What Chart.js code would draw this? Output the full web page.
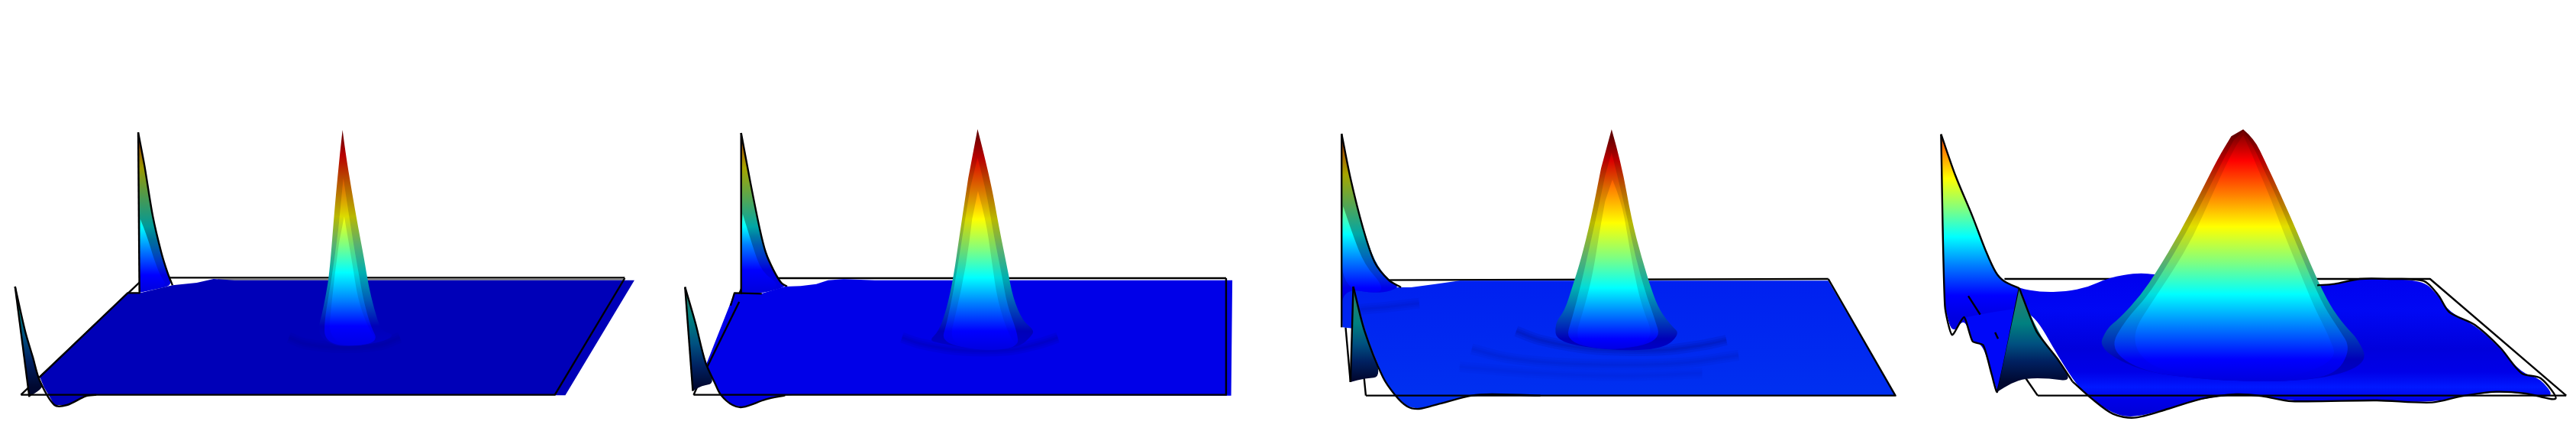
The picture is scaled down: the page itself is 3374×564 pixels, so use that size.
<!DOCTYPE html>
<html>
<head>
<meta charset="utf-8">
<title>Surface panels</title>
<script src="https://cdn.jsdelivr.net/npm/chart.js@4"></script>
<style>
  html, body { margin: 0; padding: 0; background: #fff; }
  body { width: 3374px; height: 564px; position: relative; overflow: hidden; }
  canvas { position: absolute; top: 140px; }
</style>
</head>
<body>
<canvas id="panel1" width="860" height="424" style="left:0"></canvas>
<canvas id="panel2" width="800" height="424" style="left:860px"></canvas>
<canvas id="panel3" width="800" height="424" style="left:1700px"></canvas>
<canvas id="panel4" width="874" height="424" style="left:2500px"></canvas>
<script>
// ======== colour ramps ========
const jetColors = ["#8b0000", "#ff0000", "#ff8000", "#ffff00", "#80ff80", "#00ffff", "#0080ff", "#0000ff", "#0000e0"];
const edgeColors = ["#660000", "#b80000", "#b86000", "#b8b800", "#58b070", "#00b0b0", "#0058b8", "#0000b8", "#0000c8"];
const frontColors = ["#30806a", "#008080", "#005080", "#002060", "#000830"];

// ======== panel 1 ========
const p1FrameBack = [[50,1130],[345,670],[1492,670]];
const p1FrameFront = [[50,1130],[1325,1130],[1492,672]];
const p1TopBand = [[520,677],[1490,677]];
const p1Plane = [[305,730],[335,730],[412,700],[470,690],[510,675],[560,680],[1515,680],[1350,1132],[230,1130],[205,1135],[160,1170],[130,1170],[105,1100],[95,1060]];
const p1PlaneEdge = [[95,1060],[305,730],[335,730]];
const p1Ripple = [[690,905],[730,930],[820,945],[905,935],[955,905]];
const p1Peak = [[818,90],[825,180],[840,330],[855,470],[870,600],[880,700],[893,790],[910,880],[945,895],[905,928],[820,942],[780,925],[758,880],[768,820],[778,740],[787,650],[800,380],[812,180]];
const p1PeakMid = [[820,280],[838,480],[855,640],[868,760],[885,860],[905,925],[820,942],[775,915],[775,840],[785,740],[795,640],[808,480]];
const p1PeakInner = [[822,430],[840,600],[855,760],[880,870],[905,925],[820,942],[785,890],[790,800],[800,650],[810,530]];
const p1PeakLevels = [100,190,310,430,540,650,760,860,950];
const p1BackSpike = [[330,100],[345,230],[365,430],[385,570],[400,650],[412,700],[375,715],[333,728]];
const p1BackInner = [[335,440],[350,500],[368,600],[385,670],[400,702],[333,728]];
const p1BackLevels = [0,60,150,240,350,470,560,660,720];
const p1FrontSpike = [[36,705],[60,880],[78,980],[95,1075],[105,1100],[70,1138]];
const p1FrontEdge = [[36,705],[60,880],[78,980],[95,1075],[130,1170],[160,1170],[205,1135],[230,1130]];
const p1FrontLeft = [[70,1138],[36,705]];
const p1FrontLevels = [720,800,900,1000,1100];

// ======== panel 2 ========
const p2FrameBack = [[95,1130],[230,672],[1462,672]];
const p2FrameFront = [[95,1130],[1462,1130],[1462,672]];
const p2FramePiece = [[212,765],[130,1020]];
const p2Plane = [[200,730],[215,735],[270,732],[330,705],[370,703],[410,695],[440,680],[480,676],[560,680],[1478,680],[1475,1133],[1462,1133],[360,1130],[320,1133],[280,1148],[222,1178],[195,1170],[165,1130],[150,1085],[125,1020]];
const p2PlaneEdge = [[190,780],[200,730],[270,733]];
const p2Ripple = [[630,905],[680,930],[780,955],[900,955],[980,930],[1030,905]];
const p2Peak = [[824,87],[855,270],[880,480],[900,630],[915,750],[940,840],[968,875],[965,895],[930,945],[830,958],[720,925],[700,915],[725,880],[745,790],[762,670],[778,500],[800,280]];
const p2PeakMid = [[824,200],[845,320],[865,500],[885,650],[900,780],[925,880],[930,945],[830,958],[730,925],[745,850],[765,700],[785,510],[805,320]];
const p2PeakInner = [[825,330],[845,440],[860,600],[875,760],[905,900],[930,945],[830,958],[750,925],[770,800],[795,620],[810,440]];
const p2PeakLevels = [100,200,320,440,560,670,770,880,955];
const p2BackSpike = [[217,102],[240,290],[265,480],[280,570],[300,640],[320,690],[335,705],[270,732],[217,735]];
const p2BackInner = [[221,420],[245,540],[270,650],[320,700],[270,732],[217,735],[217,500]];
const p2BackLevels = [-40,30,140,240,360,470,540,640,720];
const p2FrontSpike = [[73,707],[100,850],[125,1000],[150,1085],[115,1095],[93,1115]];
const p2FrontEdge = [[73,707],[100,850],[125,1000],[150,1085],[165,1130],[195,1170],[222,1178],[280,1148],[330,1132]];
const p2FrontLeft = [[93,1115],[73,707]];
const p2FrontLevels = [720,830,930,1020,1100];

// ======== panel 3 ========
const p3FrameBack = [[168,1133],[140,680],[1312,675]];
const p3FrameFront = [[168,1133],[1478,1133],[1312,675]];
const p3Plane = [[108,710],[135,710],[255,708],[280,708],[340,695],[400,682],[500,682],[1312,682],[1478,1133],[600,1133],[480,1128],[430,1133],[350,1165],[300,1185],[270,1175],[240,1130],[210,1060],[165,880],[140,870],[110,865]];
const p3PlaneLevels = [680,900,1133];
const p3PlaneColors = ["#0020f0", "#0028f0", "#0030f0"];
const p3RippleA = [[540,880],[600,915],[700,945],[780,955],[900,955],[1000,935],[1060,915]];
const p3RippleB = [[430,950],[520,985],[640,1005],[800,1012],[950,1005],[1090,975]];
const p3RippleC = [[400,1020],[600,1045],[800,1055],[1000,1045]];
const p3Fold = [[150,795],[220,785],[300,770]];
const p3Peak = [[776,88],[800,220],[825,440],[850,590],[875,720],[895,800],[925,860],[945,890],[905,950],[780,958],[640,925],[635,850],[660,800],[680,700],[700,600],[725,440],[750,240]];
const p3PeakMid = [[776,180],[795,300],[815,440],[835,590],[860,730],[880,820],[900,920],[780,958],[660,925],[680,820],[700,700],[720,560],[740,420],[760,270]];
const p3PeakInner = [[778,285],[800,370],[815,500],[830,640],[850,780],[885,920],[780,958],[680,930],[710,780],[730,650],[745,500],[760,370]];
const p3PeakLevels = [120,210,320,455,590,710,810,910,955];
const p3BackSpike = [[108,105],[130,280],[160,470],[190,610],[225,680],[255,708],[200,735],[108,710],[108,865]];
const p3BackInner = [[112,390],[135,500],[165,620],[210,700],[200,735],[108,710],[108,480]];
const p3BackLevels = [-30,70,165,265,385,500,600,710,760];
const p3FrontSpike = [[137,705],[165,880],[210,1060],[165,1065],[130,1080]];
const p3FrontEdge = [[137,705],[165,880],[210,1060],[240,1130],[270,1175],[300,1185],[350,1165],[430,1133],[480,1128],[600,1133]];
const p3FrontLeft = [[130,1080],[137,705]];
const p3LeftEdge = [[118,865],[130,1080]];
const p3FrontLevels = [720,850,930,1000,1070];

// ======== panel 4 ========
const p4FrameBack = [[275,1065],[303,1133]];
const p4FrameTop = [[225,675],[1225,675],[1545,1133]];
const p4FrameFront = [[303,1133],[1545,1133]];
const p4FramePieceA = [[140,742],[168,815]];
const p4FramePieceB = [[203,885],[210,910]];
const p4Surface = [[76,107],[110,270],[150,430],[180,560],[205,650],[225,685],[260,712],[310,727],[370,725],[420,708],[470,670],[540,650],[585,660],[960,700],[1000,695],[1060,675],[1130,675],[1210,683],[1245,740],[1270,805],[1330,855],[1390,945],[1440,1045],[1485,1065],[1520,1145],[1450,1125],[1380,1118],[1300,1135],[1230,1160],[1100,1152],[900,1155],[830,1135],[770,1128],[690,1145],[610,1185],[530,1220],[480,1205],[430,1145],[385,1078],[260,712],[208,1118],[195,1050],[175,935],[150,920],[130,825],[102,895],[85,780]];
const p4SurfaceLevels = [650,800,950,1040,1100,1150,1220];
const p4SurfaceColors = ["#0000ee","#0008f4","#0000dc","#0000e8","#0018ff","#0000e8","#0000d4"];
const p4LeftFold = [[135,825],[200,805],[260,790],[240,1000],[208,1118],[185,990],[175,935],[150,920]];
const p4Peak = [[786,88],[812,125],[838,215],[874,345],[910,480],[955,660],[990,780],[1025,860],[1055,910],[1080,1000],[1000,1060],[860,1080],[700,1070],[550,1040],[445,950],[465,870],[495,830],[545,740],[585,640],[635,500],[685,340],[727,200],[758,115]];
const p4PeakMid = [[786,95],[806,140],[830,230],[865,355],[898,485],[942,660],[976,785],[1010,870],[1040,950],[1000,1060],[860,1080],[700,1070],[550,1040],[470,950],[510,835],[560,745],[600,640],[650,500],[698,345],[738,210],[764,130]];
const p4PeakInner = [[786,110],[800,160],[820,240],[852,365],[880,490],[922,660],[954,790],[985,890],[1010,1000],[860,1080],[700,1070],[560,1020],[520,900],[578,750],[620,645],[670,505],[710,355],[746,225],[770,150]];
const p4PeakLevels = [110,210,345,470,610,735,860,990,1070];
const p4BackSpike = [[76,107],[110,270],[150,430],[180,560],[205,650],[225,685],[260,712],[300,790],[130,825],[102,895],[85,780]];
const p4BackLevels = [-30,60,170,280,400,510,620,740,830];
const p4FrontSpike = [[260,712],[300,880],[350,990],[385,1078],[330,1065],[275,1065],[240,1085],[208,1118]];
const p4FrontLevels = [720,850,930,1000,1080];

// ======== dataset helpers ========
let orderCount = 0;

function toPoints(list) {
  return list.map(([x, y]) => ({ x, y }));
}

// filled shape, painted by the shapeFill plugin below
function area(list, levels, colors, shade, sharp) {
  return {
    data: toPoints(list), levels, colors, shade: shade || 0, sharp: !!sharp,
    showLine: false, pointRadius: 0, order: -(orderCount++),
  };
}

function flat(list, color) {
  return area(list, [0, 1272], [color, color], 0, true);
}

function line(list, tension, width, color) {
  return {
    data: toPoints(list), showLine: true, pointRadius: 0,
    borderColor: color || "#000", borderWidth: width || 2.4,
    borderJoinStyle: "round", tension: tension || 0, order: -(orderCount++),
  };
}

// soft ripple on the surface
function ripple(list, alpha) {
  return [14, 8, 3].map((w) => line(list, 0.4, w, `rgba(0,0,90,${alpha})`));
}

// closes a dataset's points into a polygon (curved unless sharp, first point stays pointed) and fills it
const shapeFill = {
  id: "shapeFill",
  beforeDatasetDraw(chart, args) {
    const ds = chart.data.datasets[args.index];
    if (!ds.levels) return;
    const ctx = chart.ctx;
    const y = chart.scales.y;
    const first = ds.levels[0];
    const last = ds.levels[ds.levels.length - 1];
    const top = y.getPixelForValue(first);
    const bottom = y.getPixelForValue(last);
    const grad = ctx.createLinearGradient(0, top, 0, bottom);
    ds.levels.forEach((v, i) => grad.addColorStop((v - first) / (last - first), ds.colors[i]));

    const pts = args.meta.data;
    ctx.save();
    ctx.beginPath();
    ctx.moveTo(pts[0].x, pts[0].y);
    for (let i = 1; i < pts.length - 1; i++) {
      if (ds.sharp) ctx.lineTo(pts[i].x, pts[i].y);
      else ctx.quadraticCurveTo(pts[i].x, pts[i].y, (pts[i].x + pts[i + 1].x) / 2, (pts[i].y + pts[i + 1].y) / 2);
    }
    ctx.lineTo(pts[pts.length - 1].x, pts[pts.length - 1].y);
    ctx.closePath();
    ctx.fillStyle = grad;
    ctx.fill();
    if (ds.shade) {
      // darker sides, fading out at the foot of the peak
      const dark = ctx.createLinearGradient(0, top, 0, bottom);
      dark.addColorStop(0, `rgba(0,0,0,${ds.shade})`);
      dark.addColorStop(0.72, `rgba(0,0,0,${ds.shade})`);
      dark.addColorStop(1, "rgba(0,0,0,0)");
      ctx.fillStyle = dark;
      ctx.fill();
    }
    ctx.restore();
  },
};

function makeChart(id, xMax, datasets) {
  return new Chart(document.getElementById(id), {
    type: "scatter",
    data: { datasets },
    plugins: [shapeFill],
    options: {
      responsive: false,
      animation: false,
      layout: { padding: 0 },
      plugins: { legend: { display: false }, tooltip: { enabled: false } },
      scales: {
        x: { type: "linear", min: 0, max: xMax, display: false },
        y: { type: "linear", min: 0, max: 1272, reverse: true, display: false },
      },
    },
  });
}

// ======== charts ========
orderCount = 0;
makeChart("panel1", 1568, [
  line(p1FrameBack),
  line(p1TopBand, 0, 2, "#808080"),
  area(p1BackSpike, p1BackLevels, jetColors, 0.4),
  area(p1BackInner, p1BackLevels, jetColors),
  line([p1BackSpike[7], p1BackSpike[0]]),
  line(p1BackSpike.slice(0, 6), 0.3),
  flat(p1Plane, "#0000b8"),
  ...ripple(p1Ripple, 0.05),
  area(p1Peak, p1PeakLevels, edgeColors),
  area(p1PeakMid, p1PeakLevels, jetColors, 0.14),
  area(p1PeakInner, p1PeakLevels, jetColors),
  line(p1PlaneEdge),
  area(p1FrontSpike, p1FrontLevels, frontColors),
  line(p1FrontLeft),
  line(p1FrontEdge, 0.3),
  line(p1FrameFront),
]);

orderCount = 0;
makeChart("panel2", 1568, [
  line(p2FrameBack),
  area(p2BackSpike, p2BackLevels, jetColors, 0.35),
  area(p2BackInner, p2BackLevels, jetColors),
  line([p2BackSpike[8], p2BackSpike[0]]),
  line(p2BackSpike.slice(0, 7), 0.3),
  flat(p2Plane, "#0000e8"),
  ...ripple(p2Ripple, 0.07),
  area(p2Peak, p2PeakLevels, edgeColors),
  area(p2PeakMid, p2PeakLevels, jetColors, 0.14),
  area(p2PeakInner, p2PeakLevels, jetColors),
  line(p2PlaneEdge),
  line(p2FramePiece),
  area(p2FrontSpike, p2FrontLevels, frontColors),
  line(p2FrontLeft),
  line(p2FrontEdge, 0.3),
  line(p2FrameFront),
]);

orderCount = 0;
makeChart("panel3", 1511, [
  line(p3FrameBack),
  line(p3LeftEdge),
  area(p3Plane, p3PlaneLevels, p3PlaneColors, 0, true),
  ...ripple(p3RippleA, 0.09),
  ...ripple(p3RippleB, 0.045),
  ...ripple(p3RippleC, 0.025),
  ...ripple(p3Fold, 0.05),
  area(p3BackSpike, p3BackLevels, jetColors, 0.35),
  area(p3BackInner, p3BackLevels, jetColors),
  line([p3BackSpike[8], p3BackSpike[0]]),
  line(p3BackSpike.slice(0, 6), 0.3),
  area(p3Peak, p3PeakLevels, edgeColors),
  area(p3PeakMid, p3PeakLevels, jetColors, 0.14),
  area(p3PeakInner, p3PeakLevels, jetColors),
  area(p3FrontSpike, p3FrontLevels, frontColors),
  line(p3FrontLeft),
  line(p3FrontEdge, 0.3),
  line(p3FrameFront),
]);

orderCount = 0;
makeChart("panel4", 1568, [
  line(p4FrameBack),
  line(p4FrameTop),
  area(p4Surface, p4SurfaceLevels, p4SurfaceColors),
  area(p4BackSpike, p4BackLevels, jetColors),
  flat(p4LeftFold, "#0008f8"),
  line(p4Surface.slice(0, 7), 0.3),
  area(p4Peak, p4PeakLevels, edgeColors),
  area(p4PeakMid, p4PeakLevels, jetColors, 0.12),
  area(p4PeakInner, p4PeakLevels, jetColors),
  line(p4Surface.slice(13, 39), 0.3),
  line(p4Surface.slice(39).concat(p4Surface.slice(0, 1)), 0.2),
  area(p4FrontSpike, p4FrontLevels, frontColors),
  line(p4FrontSpike.slice(0, 4), 0.2),
  line(p4FrameFront),
  line(p4FramePieceA),
  line(p4FramePieceB),
]);
</script>
</body>
</html>
